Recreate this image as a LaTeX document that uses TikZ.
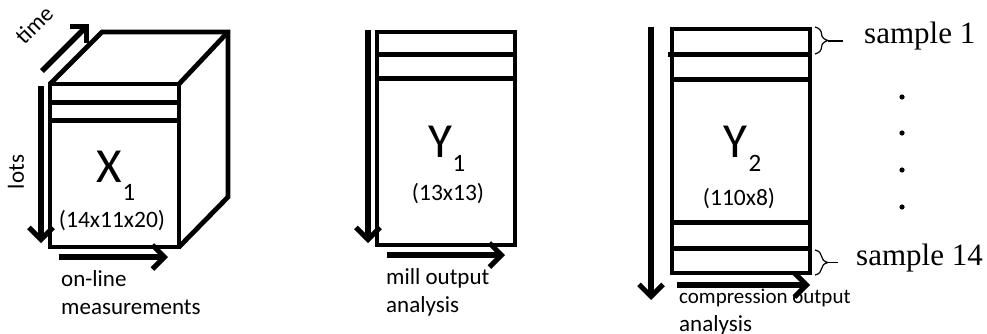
\documentclass[tikz,border=0pt]{standalone}
\usepackage{fontspec}
\setmainfont{Carlito}
\newfontfamily\serifx{Liberation Serif}
\usetikzlibrary{arrows.meta,decorations.pathreplacing}
\begin{document}
\begin{tikzpicture}[x=1pt,y=-1pt,
  box/.style={line width=4.8pt,line join=miter},
  stripe/.style={line width=5pt},
  axis/.style={line width=5.5pt,-{Straight Barb[length=12pt,width=24pt,line width=5pt]}},
  lbl/.style={inner sep=0pt,font=\fontsize{23}{28}\selectfont,align=left},
  big/.style={inner sep=0pt,font=\fontsize{49}{49}\selectfont},
  sub/.style={inner sep=0pt,font=\fontsize{25}{25}\selectfont},
  dims/.style={inner sep=0pt,font=\fontsize{23.5}{23.5}\selectfont},
  smp/.style={inner sep=0pt,anchor=west,font=\serifx\fontsize{31}{31}\selectfont},
  brc/.style={line width=1.2pt,decorate,decoration={brace,amplitude=13pt}}]
\useasboundingbox (0,0) rectangle (987,333);
% ---- cube X1
\coordinate (ftl) at (50,84);
\coordinate (ftr) at (179,84);
\coordinate (fbr) at (179,247);
\coordinate (fbl) at (50,247);
\coordinate (btl) at (102,32);
\coordinate (btr) at (228,32);
\coordinate (bbr) at (228,197);
\draw[box] (ftl) rectangle (fbr);
\draw[box] (ftl) -- (btl) -- (btr) -- (bbr) -- (fbr);
\draw[box] (ftr) -- (btr);
\coordinate (xs1l) at (50,102); \coordinate (xs1r) at (179,102);
\coordinate (xs2l) at (50,120); \coordinate (xs2r) at (179,120);
\draw[stripe] (xs1l) -- (xs1r);
\draw[stripe] (xs2l) -- (xs2r);
\coordinate (ta) at (42,71); \coordinate (tb) at (89,24);
\draw[axis] (ta) -- (tb);
\node[lbl,rotate=45] (time) at (34,25) {time};
\coordinate (la) at (41,86); \coordinate (lb) at (41,243);
\draw[axis] (la) -- (lb);
\node[lbl,rotate=90] (lots) at (16,172) {lots};
\coordinate (oa) at (59,257); \coordinate (ob) at (168,257);
\draw[axis] (oa) -- (ob);
\node[lbl,anchor=north west] (onl) at (61,270) {on-line\\measurements};
\node[big] (X) at (109,167) {X};
\node[sub] (X1) at (129,192) {1};
\node[dims] (Xd) at (112,221) {(14x11x20)};
% ---- Y1
\coordinate (y1tl) at (377,32); \coordinate (y1br) at (515,245);
\draw[box] (y1tl) rectangle (y1br);
\coordinate (y1s1l) at (377,54); \coordinate (y1s1r) at (515,54);
\coordinate (y1s2l) at (377,78); \coordinate (y1s2r) at (515,78);
\draw[stripe] (y1s1l) -- (y1s1r);
\draw[stripe] (y1s2l) -- (y1s2r);
\coordinate (y1va) at (368,30); \coordinate (y1vb) at (368,243);
\draw[axis] (y1va) -- (y1vb);
\coordinate (y1ha) at (387,255); \coordinate (y1hb) at (505,255);
\draw[axis] (y1ha) -- (y1hb);
\node[lbl,anchor=north west] (mill) at (386,268) {mill output\\analysis};
\node[big] (Y) at (440,142) {Y};
\node[sub] (Y1s) at (459,163) {1};
\node[dims] (Y1d) at (448,194) {(13x13)};
% ---- Y2
\coordinate (y2tl) at (672,29); \coordinate (y2br) at (810,273);
\draw[box] (y2tl) rectangle (y2br);
\coordinate (y2s1l) at (668,54); \coordinate (y2s1r) at (810,54);
\coordinate (y2s2l) at (672,79); \coordinate (y2s2r) at (810,79);
\coordinate (y2s3l) at (672,222); \coordinate (y2s3r) at (810,222);
\coordinate (y2s4l) at (672,248); \coordinate (y2s4r) at (810,248);
\draw[stripe] (y2s1l) -- (y2s1r);
\draw[stripe] (y2s2l) -- (y2s2r);
\draw[stripe] (y2s3l) -- (y2s3r);
\draw[stripe] (y2s4l) -- (y2s4r);
\coordinate (y2va) at (651,27); \coordinate (y2vb) at (651,300);
\draw[axis] (y2va) -- (y2vb);
\coordinate (y2ha) at (677,285); \coordinate (y2hb) at (810,285);
\draw[axis] (y2ha) -- (y2hb);
\node[lbl,anchor=north west] (comp) at (679,289) {\fontsize{21}{23}\selectfont compression output\\analysis};
\node[big] (Y2) at (735,142) {Y};
\node[sub] (Y2s) at (755,163) {2};
\node[dims] (Y2d) at (739,199) {(110x8)};
% braces
\coordinate (b1a) at (815,27); \coordinate (b1b) at (815,54);
\draw[brc] (b1a) -- (b1b);
\coordinate (b1t) at (828,41); \coordinate (b1e) at (843,41);
\draw[line width=1.2pt] (b1t) -- (b1e);
\node[smp] (s1) at (864,36) {sample 1};
\coordinate (b2a) at (815,250); \coordinate (b2b) at (815,275);
\draw[brc] (b2a) -- (b2b);
\coordinate (b2t) at (828,262.5); \coordinate (b2e) at (838,262.5);
\draw[line width=1.2pt] (b2t) -- (b2e);
\node[smp] (s14) at (856,258) {sample 14};
\foreach \yy/\nm in {97/d1,133/d2,170/d3,207/d4}
  \fill (902,\yy) circle (2.6pt) coordinate (\nm);
\end{tikzpicture}
\end{document}
